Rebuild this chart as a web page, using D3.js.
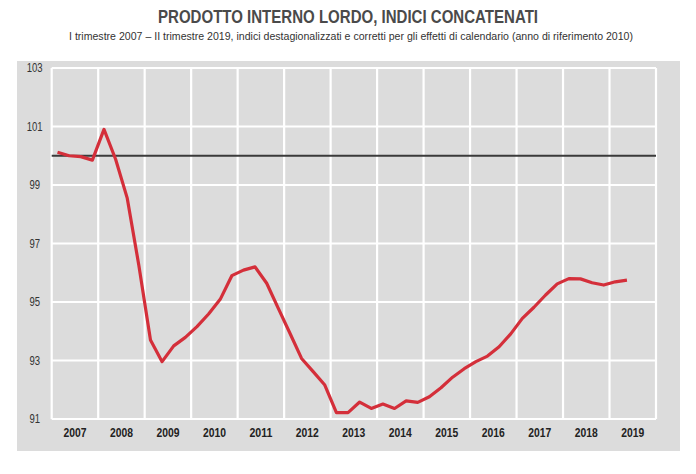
<!DOCTYPE html>
<html><head><meta charset="utf-8">
<script src="https://cdn.jsdelivr.net/npm/d3@7"></script>
<style>
html,body{margin:0;padding:0;background:#fff;}
svg{display:block;}
</style></head>
<body>
<svg id="c" width="696" height="474"></svg>
<script>
const years = ["2007","2008","2009","2010","2011","2012","2013","2014","2015","2016","2017","2018","2019"];
const quarters = ["I","II","III","IV"];
const yTicks = [91,93,95,97,99,101,103];
const reference = 100;
const gdp = [
 100.12, 100.00, 99.97, 99.85,
 100.90, 99.88, 98.55, 96.25,
 93.70, 92.96, 93.50, 93.79,
 94.16, 94.59, 95.09, 95.90,
 96.09, 96.20, 95.64, 94.78,
 93.93, 93.07, 92.62, 92.16,
 91.22, 91.22, 91.58, 91.36,
 91.51, 91.36, 91.62, 91.57,
 91.76, 92.07, 92.43, 92.72,
 92.96, 93.15, 93.47, 93.91,
 94.44, 94.82, 95.24, 95.62,
 95.80, 95.79, 95.66, 95.58,
 95.69, 95.75
];
const title = "PRODOTTO INTERNO LORDO, INDICI CONCATENATI";
const subtitle = "I trimestre 2007 \u2013 II trimestre 2019, indici destagionalizzati e corretti per gli effetti di calendario (anno di riferimento 2010)";

const svg = d3.select("#c");
const font = "'Liberation Sans',Arial,sans-serif";

const L = 51.7, R = 656, T = 68, B = 419;

svg.append("text").attr("x",348).attr("y",23).attr("text-anchor","middle")
  .attr("font-family",font).attr("font-weight","bold").attr("font-size",19)
  .attr("textLength",380).attr("lengthAdjust","spacingAndGlyphs")
  .attr("fill","#4a4a4a").text(title);
svg.append("text").attr("x",351).attr("y",40).attr("text-anchor","middle")
  .attr("font-family",font).attr("font-size",11)
  .attr("textLength",564).attr("lengthAdjust","spacingAndGlyphs")
  .attr("fill","#333").text(subtitle);

svg.append("rect").attr("x",17).attr("y",61).attr("width",663).attr("height",390).attr("fill","#dcdcdc");

const x = d3.scaleBand().domain(years).range([L,R]).padding(0);
const y = d3.scaleLinear().domain([91,103]).range([B,T]);
const qx = d3.scaleLinear().domain([0, years.length*4]).range([L,R]);

const g = svg.append("g");
g.selectAll("line.h").data(yTicks).join("line")
  .attr("x1",L).attr("x2",R).attr("y1",d=>y(d)).attr("y2",d=>y(d))
  .attr("stroke","#fff").attr("stroke-width",2.2);
const edges = years.map(d=>x(d)).concat([R]);
g.selectAll("line.v").data(edges).join("line")
  .attr("x1",d=>d).attr("x2",d=>d).attr("y1",T).attr("y2",B)
  .attr("stroke","#fff").attr("stroke-width",2.2);

g.append("line").attr("x1",L).attr("x2",R).attr("y1",y(reference)).attr("y2",y(reference))
  .attr("stroke","#3a3a3a").attr("stroke-width",2.2);

const line = d3.line().x((d,i)=>qx(i+0.5)).y(d=>y(d));
g.append("path").datum(gdp).attr("d",line).attr("fill","none")
  .attr("stroke","#d42f3a").attr("stroke-width",3.2).attr("stroke-linejoin","round");

const ya = svg.append("g").attr("transform",`translate(${L-17},0)`)
  .call(d3.axisLeft(y).tickValues(yTicks).tickSize(0).tickPadding(0).tickFormat(d3.format("d")));
ya.select(".domain").remove();
ya.selectAll("text").attr("text-anchor","middle").attr("font-family",font).attr("font-size",12).attr("fill","#333")
  .attr("textLength",d=>String(d).length*5.3).attr("lengthAdjust","spacingAndGlyphs");

const xa = svg.append("g").attr("transform",`translate(0,${B})`)
  .call(d3.axisBottom(x).tickSize(0).tickPadding(9));
xa.select(".domain").remove();
xa.selectAll("text").attr("font-family",font).attr("font-size",13).attr("font-weight","bold").attr("fill","#222")
  .attr("textLength",23).attr("lengthAdjust","spacingAndGlyphs");
</script>
</body></html>
